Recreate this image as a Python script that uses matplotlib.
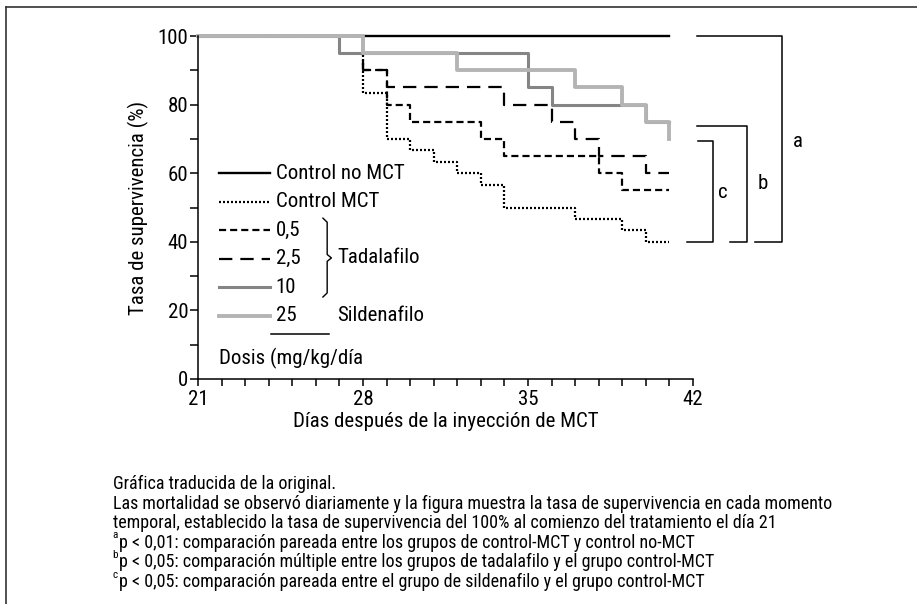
import matplotlib
matplotlib.use("Agg")
import matplotlib.pyplot as plt
from matplotlib.lines import Line2D

plt.rcParams['font.family'] = ['Roboto Condensed', 'DejaVu Sans']

# Curvas de supervivencia (dia, %), formato escalonado
dias_ctrl_no = [21, 41]
surv_ctrl_no = [100, 100]
dias_ctrl_mct = [21, 28, 29, 30, 31, 32, 33, 34, 37, 39, 40, 41]
surv_ctrl_mct = [100, 83.3, 70, 66.7, 63.3, 60, 56.7, 50, 46.7, 43.3, 40, 40]
dias_tad05 = [21, 28, 29, 30, 33, 34, 38, 39, 41]
surv_tad05 = [100, 90, 80, 75, 70, 65, 60, 55, 55]
dias_tad25 = [21, 28, 29, 34, 36, 37, 38, 40, 41]
surv_tad25 = [100, 90, 85, 80, 75, 70, 65, 60, 60]
dias_tad10 = [21, 27, 35, 36, 40, 41]
surv_tad10 = [100, 95, 85, 80, 75, 75]
dias_sil25 = [21, 28, 32, 37, 39, 40, 41]
surv_sil25 = [100, 95, 90, 85, 80, 75, 70]

etiquetas = ['Control no MCT', 'Control MCT', '0,5', '2,5', '10', '25']
xticks_lab = [21, 28, 35, 42]
yticks_lab = [0, 20, 40, 60, 80, 100]

notas = [
    ('', 'Gráfica traducida de la original.'),
    ('', 'Las mortalidad se observó diariamente y la figura muestra la tasa de supervivencia en cada momento'),
    ('', 'temporal, establecido la tasa de supervivencia del 100% al comienzo del tratamiento el día 21'),
    ('a', 'p < 0,01: comparación pareada entre los grupos de control-MCT y control no-MCT'),
    ('b', 'p < 0,05: comparación múltiple entre los grupos de tadalafilo y el grupo control-MCT'),
    ('c', 'p < 0,05: comparación pareada entre el grupo de sildenafilo y el grupo control-MCT'),
]

W, H = 917, 604
fig = plt.figure(figsize=(W / 100, H / 100), dpi=100)
ax = fig.add_axes([198 / W, 1 - 379 / H, (693 - 198) / W, (379 - 36) / H])

estilos = [
    dict(color='black', lw=1.7, ls='-'),
    dict(color='black', lw=1.6, ls=(0, (0.9, 0.9))),
    dict(color='black', lw=1.6, ls=(0, (3.2, 1.8))),
    dict(color='black', lw=1.6, ls=(0, (6, 3.6))),
    dict(color='#858585', lw=2.2, ls='-'),
    dict(color='#b4b4b4', lw=2.8, ls='-'),
]
curvas = [(dias_ctrl_no, surv_ctrl_no), (dias_ctrl_mct, surv_ctrl_mct),
          (dias_tad05, surv_tad05), (dias_tad25, surv_tad25),
          (dias_tad10, surv_tad10), (dias_sil25, surv_sil25)]
for (d, s), st in zip(curvas, estilos):
    ax.plot(d, s, drawstyle='steps-post', clip_on=False, **st)

fs = 15
ax.set_xlim(21, 42)
ax.set_ylim(0, 100)
ax.set_xticks(range(21, 43), minor=True)
ax.set_xticks(xticks_lab)
ax.set_yticks(range(10, 100, 20), minor=True)
ax.set_yticks(yticks_lab)
ax.tick_params(which='both', direction='out', length=6, width=1.1, labelsize=fs, pad=1)
ax.tick_params(axis='x', which='both', length=5, pad=3)
for sp in ['top', 'right']:
    ax.spines[sp].set_visible(False)
for sp in ['left', 'bottom']:
    ax.spines[sp].set_linewidth(1.1)
ax.set_xlabel('Días después de la inyección de MCT', fontsize=fs, labelpad=2)
ax.set_ylabel('Tasa de supervivencia (%)', fontsize=fs, labelpad=6)

# leyenda dibujada a mano
filas = [60, 51.7, 43.4, 35.1, 26.8, 18.5]
for y, st, lab in zip(filas, estilos, etiquetas):
    ax.plot([21.9, 24.05], [y, y], **st)
    ax.text(24.3, y, lab, fontsize=fs, va='center', ha='left')

# llave de tadalafilo
bx0, bx1, bx2 = 26.3, 26.48, 26.66
yt, yb, ym = 46.9, 23.9, 35.3
ax.plot([bx0, bx1, bx1, bx2, bx1, bx1, bx0],
        [yt, yt - 1.2, ym + 1.0, ym, ym - 1.0, yb + 1.2, yb], color='black', lw=1.0)
ax.text(26.9, ym, 'Tadalafilo', fontsize=fs, va='center', ha='left')
ax.text(26.9, filas[5], 'Sildenafilo', fontsize=fs, va='center', ha='left')
ax.plot([24.1, 26.56], [13.1, 13.1], color='black', lw=1.1)
ax.text(21.9, 6.1, 'Dosis (mg/kg/día', fontsize=fs, va='center', ha='left')

# corchetes de significacion
corchetes = [('a', 100, 39.9, 42.19, 44.65, 45.76, 46.43, 69.1),
             ('b', 73.8, 39.9, 42.19, 43.59, 44.31, 44.95, 57.1),
             ('c', 69.4, 39.9, 42.23, 41.76, 42.83, 43.25, 54.5)]
for lab, ytop, ybot, xt, xb, xv, xl, yl in corchetes:
    ax.plot([xt, xv, xv, xb], [ytop, ytop, ybot, ybot], color='black', lw=1.1, clip_on=False)
    ax.text(xl, yl, lab, fontsize=fs, va='center', ha='center')

# notas al pie
y0 = 484
for i, (sup, txt) in enumerate(notas):
    yp = 1 - (y0 + i * 19.5) / H
    if sup:
        fig.text(112.5 / W, yp + 7 / H, sup, fontsize=8, va='center', ha='left')
        fig.text(119.5 / W, yp, txt, fontsize=13, va='center', ha='left')
    else:
        fig.text(113 / W, yp, txt, fontsize=13, va='center', ha='left')

# marco
fig.add_artist(Line2D([6 / W, 1], [1 - 7 / H, 1 - 7 / H], color='#333333', lw=1.2))
fig.add_artist(Line2D([6 / W, 6 / W], [0, 1 - 7 / H], color='#333333', lw=1.2))

fig.savefig('out.png', dpi=100)
